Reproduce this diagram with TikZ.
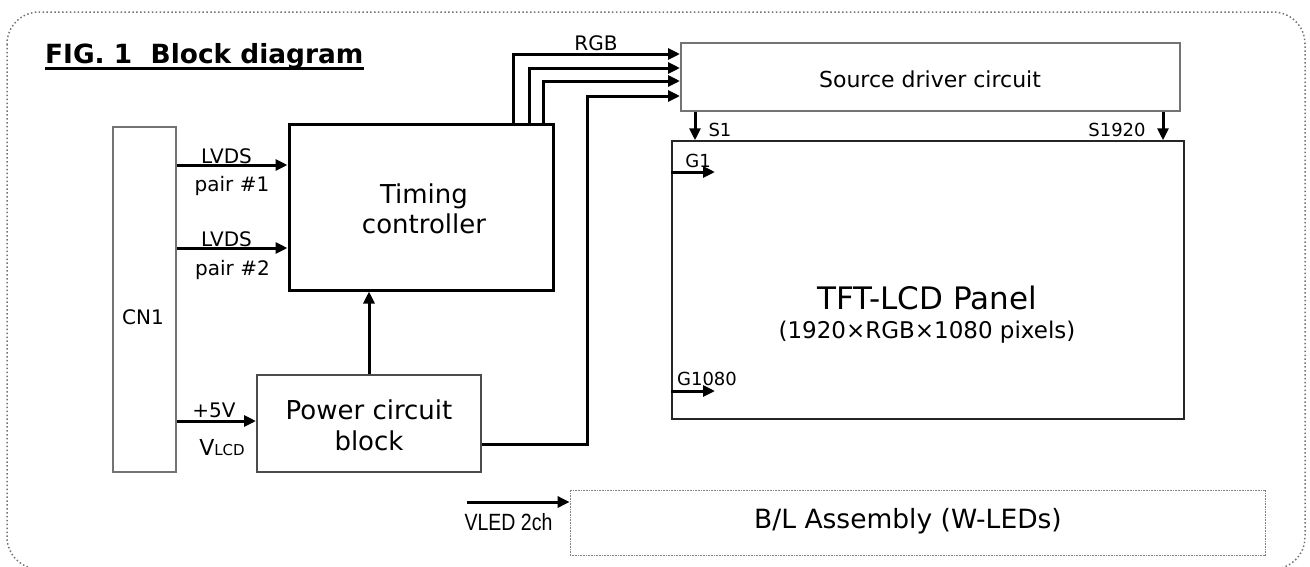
\documentclass[tikz,border=0pt]{standalone}
\usepackage{fontspec}
\setmainfont{DejaVu Sans}
\newfontfamily\narrowfont{Liberation Sans}
\usetikzlibrary{arrows.meta,calc}
\newcommand\fsz[2]{\fontsize{#1}{#2}\selectfont}
\begin{document}
\begin{tikzpicture}[x=1pt,y=-1pt,
  arr/.style={line width=3pt,-{Triangle[length=12pt,width=11pt]}},
  box/.style={draw=black!55, line width=2pt, inner sep=0pt, align=center},
  lbl/.style={inner sep=0pt, anchor=base},
]
\useasboundingbox (0,0) rectangle (1310,566);
\begin{scope}
\clip (0,0) rectangle (1310,566);
\draw[black!55, line width=1.5pt, dash pattern=on 1.5pt off 2.4pt, rounded corners=32pt] (7,12) rectangle (1305,569);
\end{scope}

% title
\node[lbl, anchor=base west, font=\fsz{26.4}{30}\bfseries] (title) at (45,63) {FIG. 1\ \ Block diagram};
\draw[line width=3pt] ($(title.base west)+(0,5)$) -- ($(title.base east)+(0,5)$);

% boxes
\node[box, minimum width=63pt, minimum height=345pt] (cn) at (144.5,299.5) {};
\node[lbl, font=\fsz{20}{24}] (cnl) at (143,324) {CN1};
\node[box, draw=black, line width=3pt, minimum width=264pt, minimum height=166pt] (tc) at (421,207) {};
\node[lbl, font=\fsz{26}{30}] (tcl1) at (424,203) {Timing};
\node[lbl, font=\fsz{26}{30}] (tcl2) at (424,233) {controller};
\node[box, draw=black!70, minimum width=224pt, minimum height=97pt] (pw) at (369,423.5) {};
\node[lbl, font=\fsz{26}{30}] (pwl1) at (369,419) {Power circuit};
\node[lbl, font=\fsz{26}{30}] (pwl2) at (369,450) {block};
\node[box, minimum width=499pt, minimum height=68pt] (sd) at (930.5,77) {};
\node[lbl, font=\fsz{22}{26}] (sdl) at (930,87) {Source driver circuit};
\node[box, draw=black!85, line width=1.5pt, minimum width=512pt, minimum height=278pt] (tft) at (928,280) {};
\node[lbl, font=\fsz{31}{36}] (tftl1) at (927,309) {TFT-LCD Panel};
\node[lbl, font=\fsz{23}{28}] (tftl2) at (927,338) {(1920×RGB×1080 pixels)};
\node[box, draw=black!50, line width=0.8pt, dash pattern=on 0.8pt off 0.8pt, minimum width=695pt, minimum height=65pt] (bl) at (917.5,523) {};
\node[lbl, font=\fsz{26.5}{30}] (bll) at (908,528) {B/L Assembly (W-LEDs)};

% LVDS
\draw[arr] (cn.east |- 0,165) -- (tc.west |- 0,165);
\node[lbl, font=\fsz{20}{24}] (lv1) at (226.5,163) {LVDS};
\node[lbl, font=\fsz{20}{24}] (pr1) at (232,191) {pair \#1};
\draw[arr] (cn.east |- 0,248) -- (tc.west |- 0,248);
\node[lbl, font=\fsz{20}{24}] (lv2) at (226.5,246) {LVDS};
\node[lbl, font=\fsz{20}{24}] (pr2) at (232.5,275) {pair \#2};

% +5V
\draw[arr] (cn.east |- 0,421) -- (pw.west |- 0,421);
\node[lbl, font=\fsz{20}{24}] (p5) at (214,417) {+5V};
\node[lbl, font=\fsz{22}{26}] (vlcd) at (222,455) {V{\fsz{15}{18}LCD}};

% power -> timing
\draw[arr] (pw.north -| 369,0) -- (tc.south -| 369,0);

% RGB bus
\draw[arr] (tc.north -| 513,0) |- (sd.west |- 0,54);
\draw[arr] (tc.north -| 529,0) |- (sd.west |- 0,68);
\draw[arr] (tc.north -| 543,0) |- (sd.west |- 0,81);
\coordinate (bend) at (587,96);
\draw[arr] (pw.east |- 0,444) -| (bend) -- (sd.west |- bend);
\node[lbl, font=\fsz{20}{24}] (rgb) at (596,50.5) {RGB};

% source lines
\draw[arr] (sd.south -| 695,0) -- (tft.north -| 695,0);
\node[lbl, font=\fsz{18}{22}] (s1) at (720,136) {S1};
\draw[arr] (sd.south -| 1163,0) -- (tft.north -| 1163,0);
\node[lbl, font=\fsz{18}{22}] (s1920) at (1117,136) {S1920};

% gate lines
\coordinate (g1e) at (715,172);
\draw[arr] (tft.west |- g1e) -- (g1e);
\node[lbl, font=\fsz{18}{22}] (g1) at (698,167.5) {G1};
\coordinate (g2e) at (715,391);
\draw[arr] (tft.west |- g2e) -- (g2e);
\node[lbl, font=\fsz{18}{22}] (g1080) at (707,385) {G1080};

% VLED
\coordinate (vs) at (467,502);
\draw[arr] (vs) -- (bl.west |- vs);
\node[lbl] (vled) at (508.5,530) {\scalebox{0.83}[1]{\narrowfont\fsz{23.5}{28}VLED 2ch}};
\end{tikzpicture}
\end{document}
